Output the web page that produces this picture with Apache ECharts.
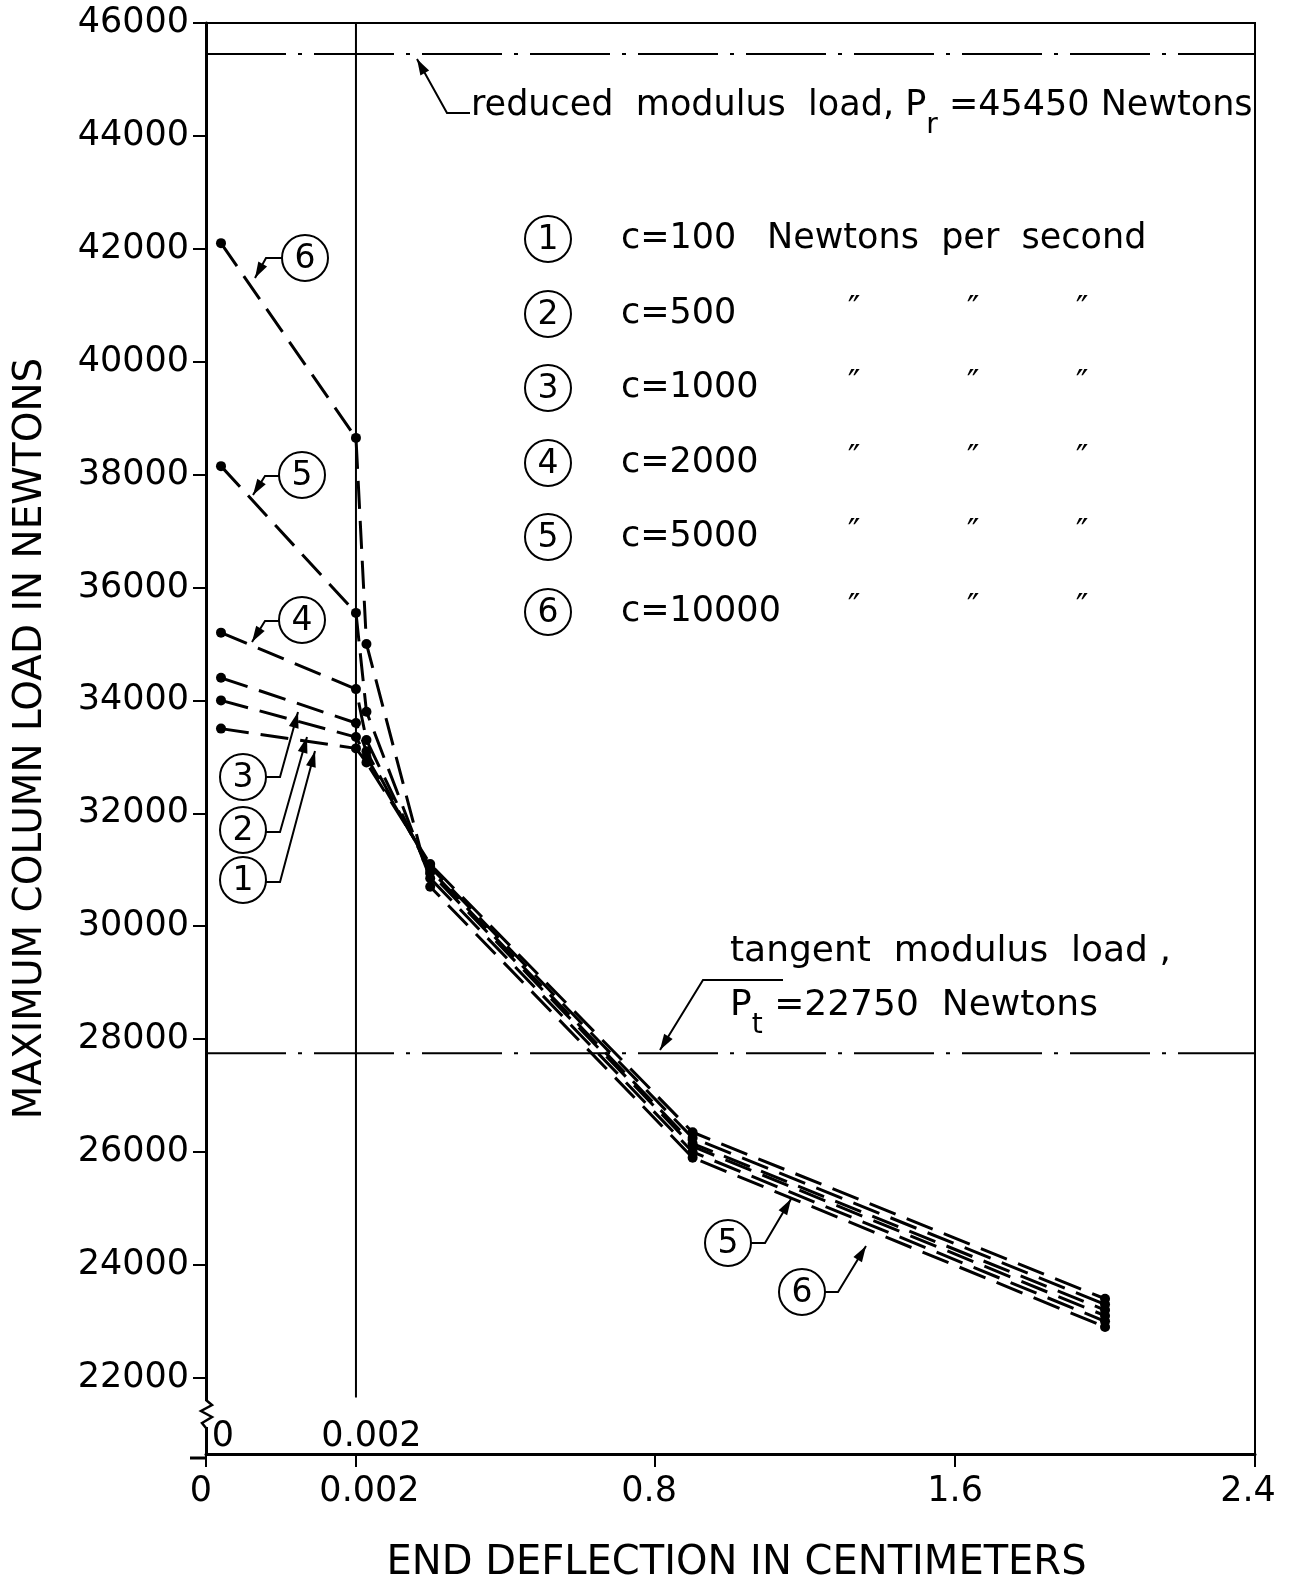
<!DOCTYPE html>
<html><head><meta charset="utf-8">
<script src="https://cdn.jsdelivr.net/npm/echarts@6/dist/echarts.min.js"></script>
<style>html,body{margin:0;padding:0;background:#fff}#c{width:1289px;height:1589px}</style>
</head><body><div id="c"></div>
<script>
// ---------------- data ----------------
const deflections = [0.0002, 0.002, 0.03, 0.2, 0.9, 2.0];           // end deflection (cm)
const loadC100   = [33500, 33150, 32900, 31100, 26350, 23400];
const loadC500   = [34000, 33350, 33000, 31050, 26250, 23300];
const loadC1000  = [34400, 33600, 33100, 31000, 26150, 23200];
const loadC2000  = [35200, 34200, 33300, 30950, 26100, 23100];
const loadC5000  = [38150, 35550, 33800, 30850, 26000, 23000];
const loadC10000 = [42100, 38650, 35000, 30700, 25900, 22900];
const curveIds = ['1','2','3','4','5','6'];
const rateLabels = ['c=100','c=500','c=1000','c=2000','c=5000','c=10000'];
const reducedModulusLoad = 45450;
const tangentLineLoad = 27750;
const breakLineTop = 46000, breakLineBottom = 21650;
const yMin = 20650, yMax = 46000;
const yTicks = [22000,24000,26000,28000,30000,32000,34000,36000,38000,40000,42000,44000,46000];
const xTicks = [0, 0.002, 0.8, 1.6, 2.4];
const xTickLabels = ['0','0.002','0.8','1.6','2.4'];
const innerXTicks = [0, 0.002];
const innerXTickLabels = ['0','0.002'];

// broken x scale: 0..0.002 magnified, then linear to 2.4
const BREAK_X = 0.002, BREAK_SPAN = 0.4;
function axisPos(x){ return x <= BREAK_X ? x / BREAK_X * BREAK_SPAN : BREAK_SPAN + (x - BREAK_X); }

const loads = [loadC100, loadC500, loadC1000, loadC2000, loadC5000, loadC10000];
const FONT = 'DejaVu Sans';
const F = (s) => s + 'px "' + FONT + '"';

function labelFormatter(values, labels){
  return function(v){
    const i = values.findIndex(t => Math.abs(axisPos(t) - v) < 1e-9);
    return i < 0 ? '' : '{p' + i + '|' + labels[i] + '}';
  };
}

const series = loads.map((arr, i) => ({
  type:'line', name: curveIds[i],
  data: deflections.map((x, j) => [axisPos(x), arr[j]]),
  lineStyle:{color:'#000', width:3, type:[28,12]},
  symbol:'circle', symbolSize:10, itemStyle:{color:'#000'},
  z:3, silent:true
}));
series.push({type:'line', data:[[axisPos(0), reducedModulusLoad],[axisPos(2.4), reducedModulusLoad]],
  lineStyle:{color:'#000', width:2, type:[80,12,4,12]}, symbol:'none', z:2, silent:true});
series.push({type:'line', data:[[axisPos(0), tangentLineLoad],[axisPos(2.4), tangentLineLoad]],
  lineStyle:{color:'#000', width:2, type:[80,12,4,12]}, symbol:'none', z:2, silent:true});
series.push({type:'line', data:[[axisPos(BREAK_X), breakLineBottom],[axisPos(BREAK_X), breakLineTop]],
  lineStyle:{color:'#000', width:2}, symbol:'none', z:2, silent:true});

// ---------------- annotations ----------------
const G = [];
function txt(x, y, text, size, align, extra){
  G.push(Object.assign({type:'text', z:100, style:Object.assign({x, y, text, fill:'#000', font:F(size||35),
    align:align||'left', textAlign:align||'left', verticalAlign:'middle', textVerticalAlign:'middle'}, extra||{})}));
}
function arrow(pts){
  G.push({type:'polyline', z:100, shape:{points:pts}, style:{stroke:'#000', lineWidth:2, fill:null}});
  const [x1,y1] = pts[pts.length-2], [x2,y2] = pts[pts.length-1];
  const L = Math.hypot(x2-x1, y2-y1), ux = (x2-x1)/L, uy = (y2-y1)/L;
  const hl = 16, hw = 5;
  G.push({type:'polygon', z:100, shape:{points:[[x2,y2],[x2-ux*hl-uy*hw, y2-uy*hl+ux*hw],[x2-ux*hl+uy*hw, y2-uy*hl-ux*hw]]},
    style:{fill:'#000'}});
}
function circled(cx, cy, t){
  G.push({type:'circle', z:100, shape:{cx, cy, r:23}, style:{stroke:'#000', lineWidth:2, fill:'#fff'}});
  txt(cx, cy+1, t, 33, 'center');
}
const subRich = {sub:{font:F(28), fill:'#000', padding:[40,0,0,0]}};
txt(471, 106, 'reduced  modulus  load, P{sub|r} =45450 Newtons', 35, 'left', {rich:subRich});
arrow([[470,113],[447,113],[417,59]]);
txt(730, 952, 'tangent  modulus  load ,', 36);
txt(730, 1006, 'P{sub|t} =22750  Newtons', 36, 'left', {rich:subRich});
arrow([[783,980],[703,980],[660,1050]]);

// legend block
const rowY = [239, 314, 388, 463, 537, 612];
rowY.forEach((y, i) => {
  circled(548, y, curveIds[i]);
  txt(621, y, rateLabels[i], 35);
  if (i === 0) txt(767, y, 'Newtons  per  second', 35);
  else { [854, 973, 1082].forEach(x => txt(x, y - 3, '\u2033', 34, 'center')); }
});

// curve labels
circled(305, 258, '6'); arrow([[282,258],[266,258],[255,278]]);
circled(302, 475, '5'); arrow([[279,476],[265,476],[253,495]]);
circled(302, 620, '4'); arrow([[279,621],[265,621],[252,642]]);
circled(243, 777, '3'); arrow([[266,777],[280,777],[298,712]]);
circled(243, 830, '2'); arrow([[266,832],[280,832],[307,737]]);
circled(243, 880, '1'); arrow([[266,882],[280,882],[315,751]]);
circled(728, 1243, '5'); arrow([[751,1243],[765,1243],[791,1199]]);
circled(802, 1292, '6'); arrow([[825,1292],[838,1292],[866,1246]]);

// axis break on y axis and x-axis extension
G.push({type:'rect', z:99, shape:{x:199, y:1401, width:15, height:26}, style:{fill:'#fff'}});
G.push({type:'polyline', z:100, shape:{points:[[206,1400],[212,1405],[201,1411],[212,1417],[202,1423],[206,1428]]},
  style:{stroke:'#000', lineWidth:2.5, fill:null}});
G.push({type:'line', z:100, shape:{x1:190, y1:1458, x2:206, y2:1458}, style:{stroke:'#000', lineWidth:3}});

const option = {
  animation:false,
  backgroundColor:'#fff',
  grid:{left:206, right:34, top:23, bottom:131, show:true, borderColor:'#000', borderWidth:2, backgroundColor:'transparent'},
  xAxis:[{
    type:'value', min:0, max:axisPos(2.4), position:'bottom',
    axisLine:{show:true, onZero:false, lineStyle:{color:'#000', width:3}},
    axisTick:{show:true, customValues:xTicks.map(axisPos), length:13, lineStyle:{color:'#000', width:2}},
    axisLabel:{customValues:xTicks.map(axisPos), formatter:labelFormatter(xTicks, xTickLabels), margin:20,
      color:'#000', fontSize:35, fontFamily:FONT,
      rich:{p0:{fontSize:35, fontFamily:FONT, color:'#000', padding:[0,10,0,0]},
            p1:{fontSize:35, fontFamily:FONT, color:'#000', padding:[0,0,0,27]},
            p2:{fontSize:35, fontFamily:FONT, color:'#000', padding:[0,12,0,0]},
            p3:{fontSize:35, fontFamily:FONT, color:'#000'},
            p4:{fontSize:35, fontFamily:FONT, color:'#000', padding:[0,14,0,0]}}},
    splitLine:{show:false},
    name:'END DEFLECTION IN CENTIMETERS', nameLocation:'middle', nameGap:90,
    nameTextStyle:{color:'#000', fontSize:40, fontFamily:FONT, padding:[0,0,0,12]}
  },{
    type:'value', min:0, max:axisPos(2.4), position:'top', offset:-1435,
    axisLine:{show:false}, axisTick:{show:false}, splitLine:{show:false},
    axisLabel:{customValues:innerXTicks.map(axisPos), formatter:labelFormatter(innerXTicks, innerXTickLabels), margin:4,
      color:'#000', fontSize:35, fontFamily:FONT,
      rich:{p0:{fontSize:35, fontFamily:FONT, color:'#000', padding:[0,0,0,34]},
            p1:{fontSize:35, fontFamily:FONT, color:'#000', padding:[0,0,0,31]}}}
  }],
  yAxis:{
    type:'value', min:yMin, max:yMax,
    axisLine:{show:true, onZero:false, lineStyle:{color:'#000', width:3}},
    axisTick:{show:true, customValues:yTicks, length:13, lineStyle:{color:'#000', width:2}},
    axisLabel:{customValues:yTicks, formatter:(v) => String(v), margin:17, color:'#000', fontSize:35, fontFamily:FONT},
    splitLine:{show:false},
    name:'MAXIMUM COLUMN LOAD IN NEWTONS', nameLocation:'middle', nameGap:156, nameRotate:90,
    nameTextStyle:{color:'#000', fontSize:39, fontFamily:FONT}
  },
  series,
  graphic:G
};
const chart = echarts.init(document.getElementById('c'));
chart.setOption(option);
</script></body></html>
